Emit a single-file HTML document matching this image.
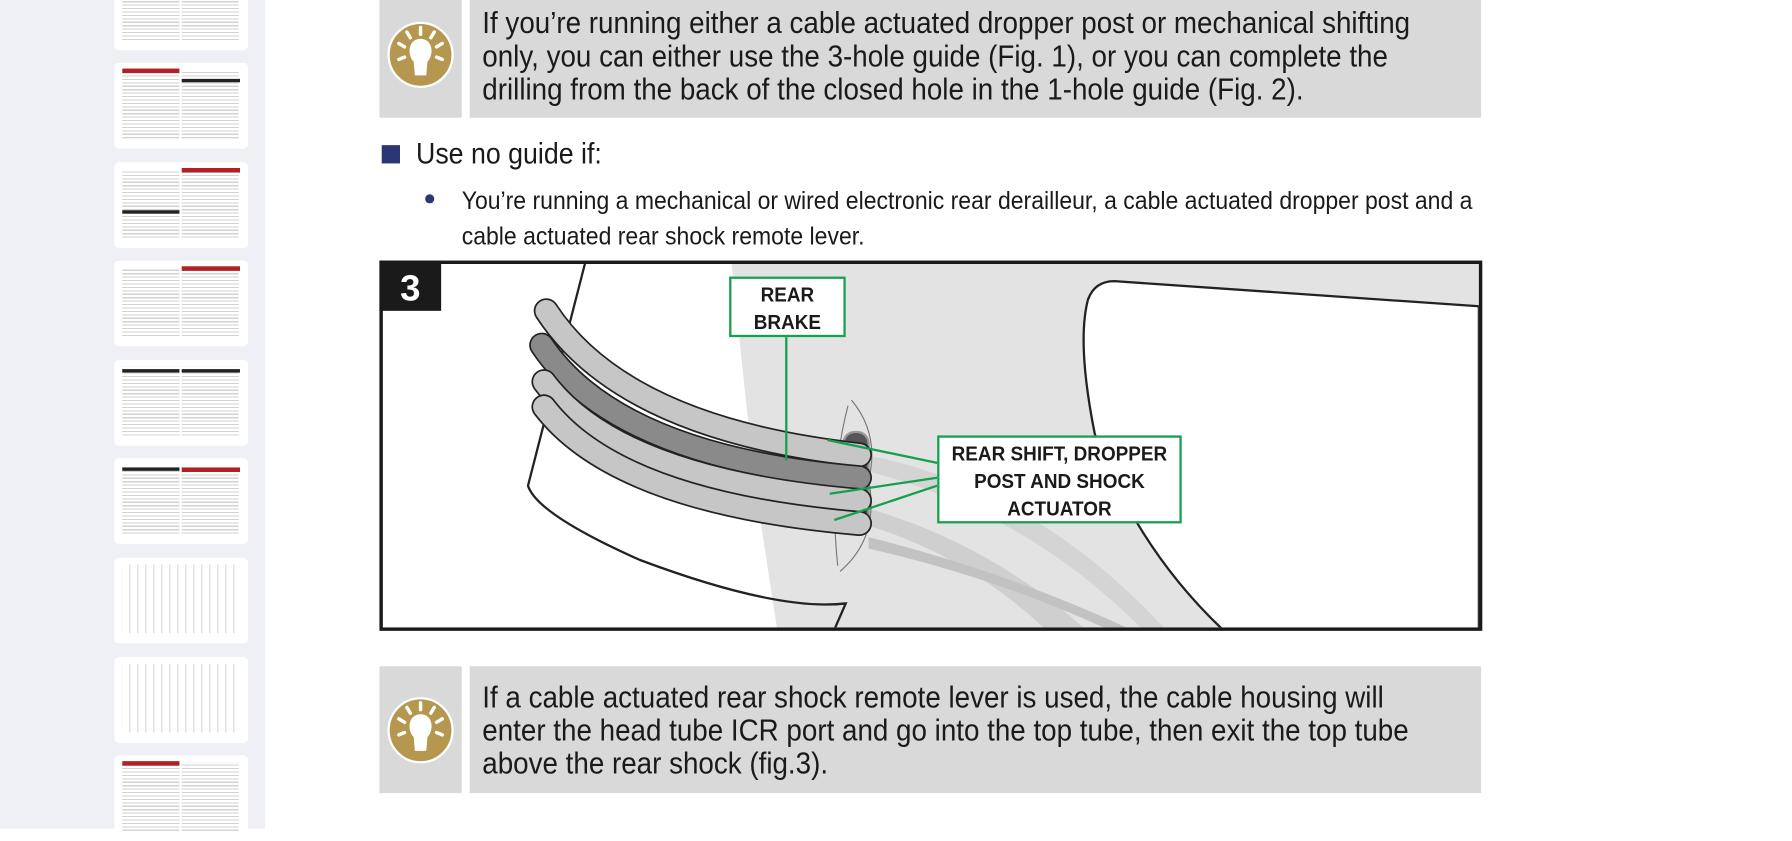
<!DOCTYPE html>
<html><head><meta charset="utf-8"><style>
html,body{margin:0;padding:0;width:1792px;height:828px;overflow:hidden;background:#fff}
#w{position:absolute;left:0;top:0;width:1568px;height:725px;transform:scale(1.142857);transform-origin:0 0;font-family:"Liberation Sans",sans-serif;color:#1a1a1a}
.l{display:block;white-space:nowrap;transform-origin:0 0}
.side{position:absolute;left:0;top:0;width:232px;height:725px;background:#eef0f5}
.card{position:absolute;left:100px;width:117px;height:75px;background:#fff;border-radius:4px;overflow:hidden}
.card .a,.card .b{position:absolute;top:6px;height:60px;width:50px;background:repeating-linear-gradient(#fff 0 2px,#d2d2d2 2px 3px)}
.card .a{left:7px}.card .b{left:59px}
.card .r{position:absolute;left:59px;top:5px;width:51px;height:4px;background:#b02025}
.card .k{position:absolute;left:7px;height:3px;width:50px;background:#222}
.icon{position:absolute;left:332px;width:72px;background:#d9d9d9}
.bulb{position:absolute;left:7px;width:54px;height:54px;border-radius:50%;background:#b5974f;border:2px solid #fff}
.txt{position:absolute;left:411px;width:885px;background:#d9d9d9;font-size:27px;line-height:29px;padding-left:11px;box-sizing:border-box}
.txt .l{transform:scaleX(.9)}
.lbl{position:absolute;background:#fff;border:2px solid #15a050;font-weight:bold;font-size:18px;line-height:24px;box-sizing:border-box}
.lbl .l{transform:scaleX(.92);transform-origin:50% 0;text-align:center}
</style></head><body><div id="w">
<div class="side">
<div class="card" style="top:-31px"><div class="a"></div><div class="b"></div></div>
<div class="card" style="top:55px"><div class="a"></div><div class="b"></div><div class="r" style="left:7px;width:50px"></div><div class="k" style="left:59px;top:14px;width:51px"></div></div>
<div class="card" style="top:142px"><div class="a"></div><div class="b"></div><div class="r"></div><div class="k" style="top:42px"></div></div>
<div class="card" style="top:228px"><div class="a"></div><div class="b"></div><div class="r"></div></div>
<div class="card" style="top:315px"><div class="a"></div><div class="b"></div><div class="k" style="top:8px"></div><div class="k" style="left:59px;top:8px;width:51px"></div></div>
<div class="card" style="top:401px"><div class="a"></div><div class="b"></div><div class="k" style="top:8px"></div><div class="r" style="top:8px"></div></div>
<div class="card" style="top:488px"><div class="a" style="width:103px;background:repeating-linear-gradient(90deg,#fff 0 6px,#e2e2e2 6px 7px)"></div></div>
<div class="card" style="top:575px"><div class="a" style="width:103px;background:repeating-linear-gradient(90deg,#fff 0 6px,#e2e2e2 6px 7px)"></div></div>
<div class="card" style="top:661px"><div class="a"></div><div class="b"></div><div class="r" style="left:7px;width:50px"></div></div>
</div>

<div class="icon" style="top:0;height:103px"><div class="bulb" style="top:19px"></div></div>
<div class="txt" style="top:0;height:103px;padding-top:6px"><span class="l">If you’re running either a cable actuated dropper post or mechanical shifting</span><span class="l">only, you can either use the 3-hole guide (Fig. 1), or you can complete the</span><span class="l">drilling from the back of the closed hole in the 1-hole guide (Fig. 2).</span></div>

<div style="position:absolute;left:334px;top:127px;width:16px;height:16px;background:#2b3674"></div>
<div style="position:absolute;left:364px;top:119px;font-size:26px"><span class="l" style="transform:scaleX(.9)">Use no guide if:</span></div>
<div style="position:absolute;left:372px;top:170px;width:8px;height:8px;border-radius:50%;background:#2b3674"></div>
<div style="position:absolute;left:404px;top:160px;font-size:22px;line-height:31px"><span class="l" style="transform:scaleX(.915)">You’re running a mechanical or wired electronic rear derailleur, a cable actuated dropper post and a</span><span class="l" style="transform:scaleX(.915)">cable actuated rear shock remote lever.</span></div>

<svg style="position:absolute;left:0;top:0" width="1568" height="725">
<defs><clipPath id="c"><rect x="334" y="230" width="960" height="319"/></clipPath></defs>
<g clip-path="url(#c)">
<rect x="334" y="230" width="960" height="319" fill="#fff"/>
<path d="M640,230 L1294,230 L1294,551 L680,551 L660,420 Z" fill="#e3e3e3"/>
<path d="M742,440 Q860,470 950,551 L915,551 Q840,480 742,455 Z" fill="#cfcfcf"/>
<path d="M760,470 Q880,500 990,551 L970,551 Q870,505 760,480 Z" fill="#c2c2c2"/>
<path d="M740,395 Q900,420 1020,551 L1000,551 Q890,440 740,408 Z" fill="#d4d4d4"/>
<path d="M1294,268 L975,246 Q958,246 952,262 Q942,300 958,380 Q995,480 1070,551 L1294,551 Z" fill="#fff" stroke="#222" stroke-width="2"/>
<path d="M512,230 L462,425 Q470,450 560,490 Q680,535 740,528 L730,551" fill="none" stroke="#222" stroke-width="2"/>
<path d="M745,350 Q770,380 760,420 Q770,470 735,500" fill="none" stroke="#777" stroke-width="1"/>
<path d="M742,355 Q725,420 733,495" fill="none" stroke="#777" stroke-width="1"/>
<rect x="738" y="378" width="22" height="86" rx="10" fill="#555" stroke="#999" stroke-width="2"/>
<g fill="none" stroke-linecap="round">
<path d="M478,272 Q545,375 752,398" stroke="#222" stroke-width="22"/><path d="M478,272 Q545,375 752,398" stroke="#c6c6c6" stroke-width="19"/>
<path d="M474,302 Q540,400 752,418" stroke="#222" stroke-width="22"/><path d="M474,302 Q540,400 752,418" stroke="#8a8a8a" stroke-width="19"/>
<path d="M476,334 Q540,420 752,438" stroke="#222" stroke-width="22"/><path d="M476,334 Q540,420 752,438" stroke="#c6c6c6" stroke-width="19"/>
<path d="M476,356 Q540,440 752,458" stroke="#222" stroke-width="22"/><path d="M476,356 Q540,440 752,458" stroke="#c6c6c6" stroke-width="19"/>
</g>
<g stroke="#15a050" stroke-width="2">
<line x1="688" y1="294" x2="688" y2="403"/>
<line x1="820" y1="405" x2="724" y2="385"/>
<line x1="820" y1="418" x2="726" y2="432"/>
<line x1="820" y1="425" x2="730" y2="455"/>
</g>
</g>
<rect x="333.5" y="229.5" width="962" height="321" fill="none" stroke="#1a1a1a" stroke-width="3"/>
<rect x="332" y="228" width="54" height="44" fill="#1a1a1a"/>
<text x="359" y="263" fill="#fff" font-family="Liberation Sans,sans-serif" font-weight="bold" font-size="32" text-anchor="middle">3</text>
</svg>
<div class="lbl" style="left:638px;top:242px;width:102px;height:53px;padding-top:2px"><span class="l">REAR</span><span class="l">BRAKE</span></div>
<div class="lbl" style="left:820px;top:381px;width:214px;height:77px;padding-top:2px"><span class="l">REAR SHIFT, DROPPER</span><span class="l">POST AND SHOCK</span><span class="l">ACTUATOR</span></div>

<div class="icon" style="top:583px;height:111px"><div class="bulb" style="top:27px"></div></div>
<div class="txt" style="top:583px;height:111px;padding-top:13px"><span class="l">If a cable actuated rear shock remote lever is used, the cable housing will</span><span class="l">enter the head tube ICR port and go into the top tube, then exit the top tube</span><span class="l">above the rear shock (fig.3).</span></div>

<svg style="position:absolute;left:339px;top:0" width="60" height="725">
<g stroke="#fff" stroke-width="3" stroke-linecap="round">
<line x1="29" y1="24" x2="29" y2="30"/><line x1="17" y1="28" x2="20" y2="33"/><line x1="41" y1="28" x2="38" y2="33"/><line x1="10" y1="38" x2="15" y2="41"/><line x1="48" y1="38" x2="43" y2="41"/><line x1="10" y1="52" x2="15" y2="50"/><line x1="48" y1="52" x2="43" y2="50"/>
<line x1="29" y1="615" x2="29" y2="621"/><line x1="17" y1="619" x2="20" y2="624"/><line x1="41" y1="619" x2="38" y2="624"/><line x1="10" y1="629" x2="15" y2="632"/><line x1="48" y1="629" x2="43" y2="632"/><line x1="10" y1="643" x2="15" y2="641"/><line x1="48" y1="643" x2="43" y2="641"/>
</g>
<path d="M29,34 C18,34 17,48 23,54 L24,66 L34,66 L35,54 C41,48 40,34 29,34 Z" fill="#fff"/>
<path d="M29,625 C18,625 17,639 23,645 L24,657 L34,657 L35,645 C41,639 40,625 29,625 Z" fill="#fff"/>
</svg>
</div></body></html>
